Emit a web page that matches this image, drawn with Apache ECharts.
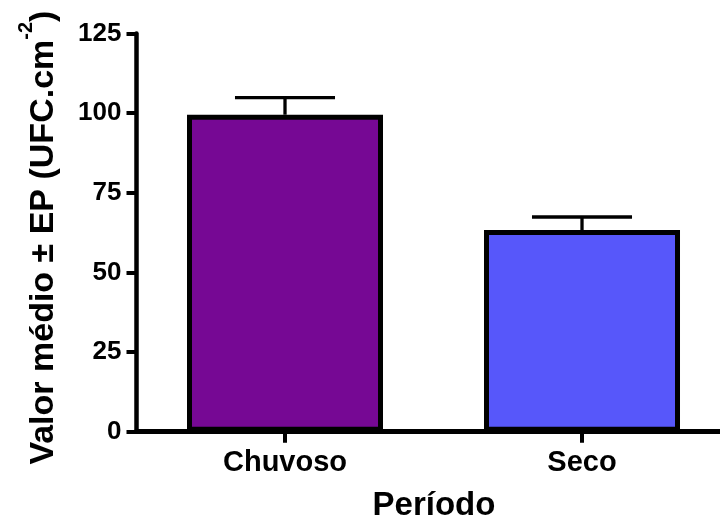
<!DOCTYPE html>
<html>
<head>
<meta charset="utf-8">
<script src="https://cdn.jsdelivr.net/npm/echarts@6/dist/echarts.min.js"></script>
<style>html,body{margin:0;padding:0;background:#fff;}#chart{width:720px;height:521px;}</style>
</head>
<body>
<div id="chart"></div>
<script>
const categories = ['Chuvoso', 'Seco'];
const means = [99.5, 63.3];
const errors = [5.4, 4.1];
const barColors = ['#760894', '#5757FA'];
const yTicks = [0, 25, 50, 75, 100, 125];

const FONT = '"Liberation Sans", Arial, sans-serif';
const chart = echarts.init(document.getElementById('chart'));
const catIdx = categories.map((c, i) => i);

const option = {
  backgroundColor: '#ffffff',
  animation: false,
  grid: { left: 136.5, top: 33.5, width: 584, height: 398.2, containLabel: false, outerBoundsMode: 'none' },
  xAxis: {
    type: 'value',
    min: -0.5,
    max: 1.4663,
    name: 'Período',
    nameLocation: 'middle',
    nameGap: 58,
    nameTextStyle: { fontFamily: FONT, fontWeight: 'bold', fontSize: 33, color: '#000', padding: [0, 0, 0, 11] },
    axisLine: { show: true, onZero: false, lineStyle: { color: '#000', width: 5 } },
    axisTick: { show: true, customValues: catIdx, length: 11, lineStyle: { color: '#000', width: 4 } },
    axisLabel: {
      customValues: catIdx,
      formatter: function (v) { return categories[Math.round(v)] || ''; },
      fontFamily: FONT, fontWeight: 'bold', fontSize: 29, color: '#000', margin: 17
    },
    splitLine: { show: false }
  },
  yAxis: {
    type: 'value',
    min: yTicks[0],
    max: yTicks[yTicks.length - 1],
    interval: 25,
    name: '{a|Valor médio ± EP (UFC.cm}{s|-2}{a|)}',
    nameLocation: 'middle',
    nameRotate: 90,
    nameGap: 76,
    nameTextStyle: {
      padding: [0, 10, 0, 0],
      rich: {
        a: { fontFamily: FONT, fontWeight: 'bold', fontSize: 34, color: '#000', lineHeight: 44, verticalAlign: 'bottom' },
        s: { fontFamily: FONT, fontWeight: 'bold', fontSize: 20, color: '#000', verticalAlign: 'top' }
      }
    },
    axisLine: { show: true, onZero: false, lineStyle: { color: '#000', width: 4.5 } },
    axisTick: { show: true, length: 10, lineStyle: { color: '#000', width: 4 } },
    axisLabel: { fontFamily: FONT, fontWeight: 'bold', fontSize: 26, color: '#000', margin: 15 },
    splitLine: { show: false }
  },
  series: [
    {
      type: 'bar',
      barWidth: 196,
      data: means.map((v, i) => ({
        value: [i, v],
        itemStyle: { color: barColors[i], borderColor: '#000', borderWidth: 5 }
      })),
      z: 2
    },
    {
      type: 'custom',
      z: 5,
      data: means.map((v, i) => [i, v, v + errors[i]]),
      renderItem: function (params, api) {
        const x = api.value(0);
        const base = api.coord([x, api.value(1)]);
        const top = api.coord([x, api.value(2)]);
        const half = api.size([1, 0])[0] * 0.1684;
        const style = { stroke: '#000', lineWidth: 3.3, fill: null };
        return {
          type: 'group',
          children: [
            { type: 'line', shape: { x1: base[0], y1: base[1], x2: top[0], y2: top[1] }, style: style },
            { type: 'line', shape: { x1: top[0] - half, y1: top[1], x2: top[0] + half, y2: top[1] }, style: style }
          ]
        };
      }
    }
  ]
};
chart.setOption(option);
</script>
</body>
</html>
